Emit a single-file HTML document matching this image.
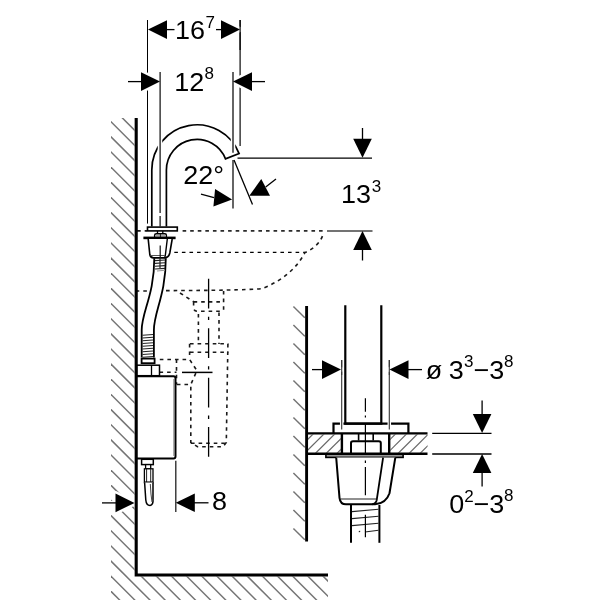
<!DOCTYPE html>
<html><head><meta charset="utf-8"><style>
html,body{margin:0;padding:0;background:#fff;width:600px;height:600px;overflow:hidden}
svg{display:block;will-change:transform}
text{font-family:"Liberation Sans",sans-serif}
</style></head><body>
<svg width="600" height="600" viewBox="0 0 600 600">
<rect width="600" height="600" fill="#fff"/>
<defs>
<clipPath id="cw"><rect x="111" y="118" width="23.5" height="482"/><rect x="111" y="576.6" width="217" height="30"/></clipPath>
<clipPath id="ct1"><rect x="307.8" y="434.6" width="33" height="18.2"/></clipPath>
<clipPath id="ct2"><rect x="390.2" y="434.6" width="37.3" height="18.2"/></clipPath>
</defs>
<g clip-path="url(#cw)" stroke="#747474" stroke-width="1.45"><line x1="0" y1="-34.7" x2="600" y2="565.3"/><line x1="0" y1="-19.55" x2="600" y2="580.45"/><line x1="0" y1="-4.4" x2="600" y2="595.6"/><line x1="0" y1="10.75" x2="600" y2="610.75"/><line x1="0" y1="25.9" x2="600" y2="625.9"/><line x1="0" y1="41.05" x2="600" y2="641.05"/><line x1="0" y1="56.2" x2="600" y2="656.2"/><line x1="0" y1="71.35" x2="600" y2="671.35"/><line x1="0" y1="86.5" x2="600" y2="686.5"/><line x1="0" y1="101.65" x2="600" y2="701.65"/><line x1="0" y1="116.8" x2="600" y2="716.8"/><line x1="0" y1="131.95" x2="600" y2="731.95"/><line x1="0" y1="147.1" x2="600" y2="747.1"/><line x1="0" y1="162.25" x2="600" y2="762.25"/><line x1="0" y1="177.4" x2="600" y2="777.4"/><line x1="0" y1="192.55" x2="600" y2="792.55"/><line x1="0" y1="207.7" x2="600" y2="807.7"/><line x1="0" y1="222.85" x2="600" y2="822.85"/><line x1="0" y1="238" x2="600" y2="838"/><line x1="0" y1="253.15" x2="600" y2="853.15"/><line x1="0" y1="268.3" x2="600" y2="868.3"/><line x1="0" y1="283.45" x2="600" y2="883.45"/><line x1="0" y1="298.6" x2="600" y2="898.6"/><line x1="0" y1="313.75" x2="600" y2="913.75"/><line x1="0" y1="328.9" x2="600" y2="928.9"/><line x1="0" y1="344.05" x2="600" y2="944.05"/><line x1="0" y1="359.2" x2="600" y2="959.2"/><line x1="0" y1="374.35" x2="600" y2="974.35"/><line x1="0" y1="389.5" x2="600" y2="989.5"/><line x1="0" y1="404.65" x2="600" y2="1004.65"/><line x1="0" y1="419.8" x2="600" y2="1019.8"/><line x1="0" y1="434.95" x2="600" y2="1034.95"/><line x1="0" y1="450.1" x2="600" y2="1050.1"/><line x1="0" y1="465.25" x2="600" y2="1065.25"/><line x1="0" y1="480.4" x2="600" y2="1080.4"/><line x1="0" y1="495.55" x2="600" y2="1095.55"/><line x1="0" y1="510.7" x2="600" y2="1110.7"/><line x1="0" y1="525.85" x2="600" y2="1125.85"/><line x1="0" y1="541" x2="600" y2="1141"/><line x1="0" y1="556.15" x2="600" y2="1156.15"/><line x1="0" y1="571.3" x2="600" y2="1171.3"/><line x1="0" y1="586.45" x2="600" y2="1186.45"/><line x1="0" y1="601.6" x2="600" y2="1201.6"/><line x1="0" y1="616.75" x2="600" y2="1216.75"/><line x1="0" y1="631.9" x2="600" y2="1231.9"/><line x1="0" y1="647.05" x2="600" y2="1247.05"/><line x1="0" y1="662.2" x2="600" y2="1262.2"/></g>
<g stroke="#747474" stroke-width="1.45"><line x1="293.4" y1="306.4" x2="304.8" y2="317.8"/><line x1="293.4" y1="324.9" x2="304.8" y2="336.3"/><line x1="293.4" y1="343.4" x2="304.8" y2="354.8"/><line x1="293.4" y1="361.9" x2="304.8" y2="373.3"/><line x1="293.4" y1="380.4" x2="304.8" y2="391.8"/><line x1="293.4" y1="398.9" x2="304.8" y2="410.3"/><line x1="293.4" y1="417.4" x2="304.8" y2="428.8"/><line x1="293.4" y1="435.9" x2="304.8" y2="447.3"/><line x1="293.4" y1="454.4" x2="304.8" y2="465.8"/><line x1="293.4" y1="472.9" x2="304.8" y2="484.3"/><line x1="293.4" y1="491.4" x2="304.8" y2="502.8"/><line x1="293.4" y1="509.9" x2="304.8" y2="521.3"/><line x1="293.4" y1="528.4" x2="304.8" y2="539.8"/></g>
<g clip-path="url(#ct1)" stroke="#666" stroke-width="1.2"><line x1="254.75" y1="460" x2="294.75" y2="420"/><line x1="265.55" y1="460" x2="305.55" y2="420"/><line x1="276.35" y1="460" x2="316.35" y2="420"/><line x1="287.15" y1="460" x2="327.15" y2="420"/><line x1="297.95" y1="460" x2="337.95" y2="420"/><line x1="308.75" y1="460" x2="348.75" y2="420"/><line x1="319.55" y1="460" x2="359.55" y2="420"/><line x1="330.35" y1="460" x2="370.35" y2="420"/><line x1="341.15" y1="460" x2="381.15" y2="420"/><line x1="351.95" y1="460" x2="391.95" y2="420"/><line x1="362.75" y1="460" x2="402.75" y2="420"/><line x1="373.55" y1="460" x2="413.55" y2="420"/><line x1="384.35" y1="460" x2="424.35" y2="420"/><line x1="395.15" y1="460" x2="435.15" y2="420"/><line x1="405.95" y1="460" x2="445.95" y2="420"/><line x1="416.75" y1="460" x2="456.75" y2="420"/><line x1="427.55" y1="460" x2="467.55" y2="420"/><line x1="438.35" y1="460" x2="478.35" y2="420"/><line x1="449.15" y1="460" x2="489.15" y2="420"/><line x1="459.95" y1="460" x2="499.95" y2="420"/><line x1="470.75" y1="460" x2="510.75" y2="420"/><line x1="481.55" y1="460" x2="521.55" y2="420"/><line x1="492.35" y1="460" x2="532.35" y2="420"/><line x1="503.15" y1="460" x2="543.15" y2="420"/><line x1="513.95" y1="460" x2="553.95" y2="420"/></g>
<g clip-path="url(#ct2)" stroke="#666" stroke-width="1.2"><line x1="336.5" y1="460" x2="376.5" y2="420"/><line x1="347.5" y1="460" x2="387.5" y2="420"/><line x1="358.5" y1="460" x2="398.5" y2="420"/><line x1="369.5" y1="460" x2="409.5" y2="420"/><line x1="380.5" y1="460" x2="420.5" y2="420"/><line x1="391.5" y1="460" x2="431.5" y2="420"/><line x1="402.5" y1="460" x2="442.5" y2="420"/><line x1="413.5" y1="460" x2="453.5" y2="420"/><line x1="424.5" y1="460" x2="464.5" y2="420"/><line x1="435.5" y1="460" x2="475.5" y2="420"/><line x1="446.5" y1="460" x2="486.5" y2="420"/><line x1="457.5" y1="460" x2="497.5" y2="420"/><line x1="468.5" y1="460" x2="508.5" y2="420"/><line x1="479.5" y1="460" x2="519.5" y2="420"/><line x1="490.5" y1="460" x2="530.5" y2="420"/><line x1="501.5" y1="460" x2="541.5" y2="420"/><line x1="512.5" y1="460" x2="552.5" y2="420"/><line x1="523.5" y1="460" x2="563.5" y2="420"/><line x1="534.5" y1="460" x2="574.5" y2="420"/><line x1="545.5" y1="460" x2="585.5" y2="420"/><line x1="556.5" y1="460" x2="596.5" y2="420"/><line x1="567.5" y1="460" x2="607.5" y2="420"/><line x1="578.5" y1="460" x2="618.5" y2="420"/><line x1="589.5" y1="460" x2="629.5" y2="420"/><line x1="600.5" y1="460" x2="640.5" y2="420"/></g>
<line x1="147.5" y1="20" x2="147.5" y2="223.6" stroke="#000" stroke-width="1" />
<line x1="240.1" y1="20" x2="240.1" y2="146" stroke="#000" stroke-width="1.16" />
<path d="M151.8,226.5 L151.8,170 A45.2,45.2 0 0 1 239.11,153.58 L225.51,158.88 A30.6,30.6 0 0 0 166.4,170 L166.4,226.5" fill="none" stroke="#000" stroke-width="1.7" stroke-linejoin="miter"/>
<path d="M137.1,230.9 H147" stroke="#1a1a1a" stroke-width="1.6" stroke-dasharray="3.6 3.98" fill="none"/>
<path d="M182.6,230.9 H323" stroke="#2a2a2a" stroke-width="1.8" stroke-dasharray="3.6 3.98" fill="none"/>
<path d="M174.3,252.3 H305" stroke="#000" stroke-width="1.35" stroke-dasharray="3.6 3.98" fill="none"/>
<path d="M135.7,291 H147" stroke="#1a1a1a" stroke-width="1.6" stroke-dasharray="3.6 3.98" fill="none"/>
<path d="M166,290.6 C210,290.5 248,290 262,288.6 Q292,277 305,252.5 Q320,246 323.5,233" stroke="#1a1a1a" stroke-width="1.6" stroke-dasharray="3.6 3.98" fill="none"/>
<path d="M180,293 L194,302" stroke="#1a1a1a" stroke-width="1.6" stroke-dasharray="3.6 3.98" fill="none"/>
<path d="M223.6,291 V311.2" stroke="#1a1a1a" stroke-width="1.6" stroke-dasharray="3.6 3.98" fill="none"/>
<path d="M193.6,301.9 H223.6" stroke="#1a1a1a" stroke-width="1.6" stroke-dasharray="3.6 3.98" fill="none"/>
<path d="M193.6,301.9 V307.5 Q193.6,311.2 197.4,311.2 H223.6" stroke="#1a1a1a" stroke-width="1.6" stroke-dasharray="3.6 3.98" fill="none"/>
<path d="M198.4,313.9 V344" stroke="#1a1a1a" stroke-width="1.6" stroke-dasharray="3.6 3.98" fill="none"/>
<path d="M219,312.5 V344" stroke="#1a1a1a" stroke-width="1.6" stroke-dasharray="3.6 3.98" fill="none"/>
<path d="M190,343.8 H228.3" stroke="#1a1a1a" stroke-width="1.6" stroke-dasharray="3.6 3.98" fill="none"/>
<path d="M190,352.2 H228.3" stroke="#1a1a1a" stroke-width="1.6" stroke-dasharray="3.6 3.98" fill="none"/>
<path d="M189.6,343.8 V358.3" stroke="#1a1a1a" stroke-width="1.6" stroke-dasharray="3.6 3.98" fill="none"/>
<path d="M227.9,343.8 L226.3,442.5 L223,446.7 H197.5 L190.8,442.5 V384.5" stroke="#1a1a1a" stroke-width="1.6" stroke-dasharray="3.6 3.98" fill="none"/>
<path d="M191,443.3 H226" stroke="#1a1a1a" stroke-width="1.6" stroke-dasharray="3.6 3.98" fill="none"/>
<path d="M159.8,359.5 H189.6 L196.2,369.6 V372.3 L190.8,384.5 H176.5" stroke="#1a1a1a" stroke-width="1.6" stroke-dasharray="3.6 3.98" fill="none"/>
<path d="M176.5,359.5 V384.5" stroke="#1a1a1a" stroke-width="1.6" stroke-dasharray="3.6 3.98" fill="none"/>
<path d="M159.5,372.3 H176.5" stroke="#1a1a1a" stroke-width="1.6" stroke-dasharray="3.6 3.98" fill="none"/>
<line x1="182" y1="372.4" x2="212.5" y2="372.4" stroke="#000" stroke-width="1.5" />
<path d="M208.6,278.75 V457.2" stroke="#000" stroke-width="1.3" stroke-dasharray="29.75 8.2 3.4 8.1"/>
<rect x="147.5" y="227.1" width="29.8" height="3.8" fill="#fff" stroke="#000" stroke-width="1.6"/>
<path d="M157.5,231 V234 M162.8,231 V234" stroke="#000" stroke-width="1.3"/>
<path d="M154.6,237.2 V235.2 Q154.6,233.7 156.4,233.7 H164.9 Q166.4,233.7 166.4,235.2 V237.2" fill="#fff" stroke="#000" stroke-width="1.4"/>
<rect x="155.6" y="235" width="4.2" height="1.7" fill="#aaa"/>
<rect x="161" y="235" width="4.2" height="1.7" fill="#aaa"/>
<line x1="160.4" y1="234" x2="160.4" y2="237" stroke="#222" stroke-width="1.1" />
<rect x="143.4" y="236.6" width="32.2" height="2.6" fill="#000"/>
<path d="M148.2,239 L149.8,254.5 Q150.4,257.9 153.5,257.9 H165 Q168.8,257.5 169.8,253 L172.2,239" fill="#fff" stroke="#000" stroke-width="1.6"/>
<path d="M167.3,239 L165.3,255.5 Q165,257.5 164,257.9" fill="none" stroke="#000" stroke-width="1.4"/>
<line x1="150.4" y1="255.5" x2="165" y2="255.5" stroke="#555" stroke-width="1" />
<line x1="160.2" y1="245.4" x2="160.2" y2="258" stroke="#111" stroke-width="1.2" />
<path d="M154.3,258.3 C154.3,295 141.7,312 141.7,330 V357.5" fill="none" stroke="#000" stroke-width="1.8"/>
<path d="M165.8,258.3 C165.8,295 153.9,312 153.9,330 V357.5" fill="none" stroke="#000" stroke-width="1.8"/>
<g stroke="#222" stroke-width="1.1"><line x1="155" y1="260.6" x2="165" y2="260"/><line x1="155" y1="263.4" x2="165" y2="262.8"/><line x1="155" y1="266.2" x2="165" y2="265.6"/><line x1="155" y1="269" x2="165" y2="268.4"/><line x1="157" y1="271" x2="165" y2="270.3" stroke="#999"/><line x1="142.5" y1="335.3" x2="153" y2="334.5"/><line x1="142.5" y1="338.05" x2="153" y2="337.25"/><line x1="142.5" y1="340.8" x2="153" y2="340"/><line x1="142.5" y1="343.55" x2="153" y2="342.75"/><line x1="142.5" y1="346.3" x2="153" y2="345.5"/><line x1="142.5" y1="349.05" x2="153" y2="348.25"/><line x1="142.5" y1="351.8" x2="153" y2="351"/><line x1="142.5" y1="354.55" x2="153" y2="353.75"/><line x1="142.5" y1="357.3" x2="153" y2="356.5"/></g>
<line x1="160" y1="258" x2="160" y2="268" stroke="#222" stroke-width="1.2" />
<rect x="141.6" y="358.6" width="13" height="4.6" fill="#fff" stroke="#000" stroke-width="1.8"/>
<rect x="136.5" y="365.2" width="23" height="10.5" fill="#fff" stroke="#000" stroke-width="1.5"/>
<line x1="151.5" y1="365.2" x2="151.5" y2="375.7" stroke="#000" stroke-width="1.3" />
<path d="M136.5,376.3 H173.5 Q175.5,376.3 175.5,378.3 V456.6 Q175.5,458.6 173.5,458.6 H136.5" fill="#fff" stroke="#000" stroke-width="2"/>
<line x1="174" y1="379" x2="174" y2="456" stroke="#777" stroke-width="1.2" />
<rect x="141.6" y="459.3" width="11.7" height="5.3" fill="#fff" stroke="#000" stroke-width="1.5"/>
<rect x="145.6" y="464.6" width="5.1" height="4.2" fill="#fff" stroke="#000" stroke-width="1.3"/>
<rect x="144.4" y="468.8" width="8.6" height="13.7" fill="#fff" stroke="#000" stroke-width="1.3"/>
<line x1="146.6" y1="469" x2="146.6" y2="482" stroke="#222" stroke-width="1" />
<line x1="150.7" y1="469" x2="150.7" y2="482" stroke="#222" stroke-width="1" />
<line x1="144.4" y1="482.5" x2="153" y2="482.5" stroke="#000" stroke-width="2" />
<path d="M144.6,482.5 L145.8,500 Q146.3,505.5 150,505.5 Q153.5,505 153,499 L153,482.5" fill="#fff" stroke="#000" stroke-width="1.5"/>
<path d="M150.3,484 Q150.8,495 152,502" fill="none" stroke="#444" stroke-width="1"/>
<path d="M345.3,305.3 V423.7 H381.3 V305.3" fill="none" stroke="#000" stroke-width="2.2"/>
<path d="M333.5,433 V423.7 H408.4 V433" fill="none" stroke="#000" stroke-width="2.2"/>
<line x1="341.7" y1="418" x2="341.7" y2="429.5" stroke="#fff" stroke-width="3.5" />
<line x1="389.3" y1="418" x2="389.3" y2="429.5" stroke="#fff" stroke-width="3.5" />
<line x1="306" y1="433.4" x2="427.5" y2="433.4" stroke="#000" stroke-width="2.4" />
<line x1="306" y1="453.8" x2="427.5" y2="453.8" stroke="#000" stroke-width="2.4" />
<line x1="341.9" y1="433" x2="341.9" y2="454" stroke="#000" stroke-width="2.4" />
<line x1="389.2" y1="433" x2="389.2" y2="454" stroke="#000" stroke-width="2.4" />
<path d="M358.6,433 V440.5 M373.2,433 V440.5" stroke="#000" stroke-width="1.6"/>
<path d="M351,453.8 V443 Q351,441.2 353,441.2 H378.8 Q380.8,441.2 380.8,443 V453.8" fill="none" stroke="#000" stroke-width="2"/>
<rect x="325.9" y="454.2" width="77.2" height="3.2" fill="#999" stroke="#000" stroke-width="1.6"/>
<path d="M336.2,457.6 L339.5,497.8 Q340.3,504.3 346,504.3 H375 Q386,503.5 389.5,493.2 L395.3,457.6" fill="#fff" stroke="#000" stroke-width="2"/>
<path d="M383.1,457.6 L376.7,500.2 Q376,503.8 372,504.3" fill="none" stroke="#000" stroke-width="1.8"/>
<line x1="340.5" y1="499" x2="376.5" y2="499" stroke="#222" stroke-width="1.1" />
<line x1="351" y1="505" x2="351" y2="542.8" stroke="#000" stroke-width="2" />
<line x1="379.4" y1="505" x2="379.4" y2="542.8" stroke="#000" stroke-width="2" />
<g stroke="#222" stroke-width="1.1"><line x1="352" y1="511.6" x2="378.5" y2="509.2"/><line x1="352" y1="518.6" x2="378.5" y2="516.2"/><line x1="352" y1="525.6" x2="378.5" y2="523.2"/><line x1="365" y1="532" x2="378.5" y2="530.2"/><line x1="358.8" y1="531.6" x2="360.2" y2="531.4"/></g>
<path d="M365.4,398.3 V411.7 M365.4,415.5 V417.5 M365.4,423 V453.7 M365.4,460.5 V463 M365.4,467 V495.3 M365.4,514.7 V537.3" stroke="#000" stroke-width="1.2"/>
<line x1="341.7" y1="360" x2="341.7" y2="429.5" stroke="#333" stroke-width="1.1" />
<line x1="389.3" y1="360" x2="389.3" y2="429.5" stroke="#333" stroke-width="1.1" />
<line x1="160" y1="120" x2="160" y2="170" stroke="#fff" stroke-width="4.5" />
<line x1="233" y1="135" x2="233" y2="152" stroke="#fff" stroke-width="4.5" />
<g><path d="M148,29.6 L167,20.3 L167,38.9 Z" fill="#fff" stroke="#fff" stroke-width="5" stroke-linejoin="round"/><line x1="166" y1="29.6" x2="174.5" y2="29.6" stroke="#fff" stroke-width="4" /><path d="M240,29.6 L221,38.9 L221,20.3 Z" fill="#fff" stroke="#fff" stroke-width="5" stroke-linejoin="round"/><line x1="216" y1="29.6" x2="223" y2="29.6" stroke="#fff" stroke-width="4" /><path d="M160,81.6 L141,90.9 L141,72.3 Z" fill="#fff" stroke="#fff" stroke-width="5" stroke-linejoin="round"/><line x1="128" y1="81.6" x2="142" y2="81.6" stroke="#fff" stroke-width="4" /><path d="M233,81.6 L252,72.3 L252,90.9 Z" fill="#fff" stroke="#fff" stroke-width="5" stroke-linejoin="round"/><line x1="251" y1="81.6" x2="265" y2="81.6" stroke="#fff" stroke-width="4" /><path d="M232.1,199.4 L215.1,189 L213.4,206.6 Z" fill="#fff" stroke="#fff" stroke-width="5" stroke-linejoin="round"/><line x1="201" y1="194.2" x2="214" y2="197.6" stroke="#fff" stroke-width="4" /><path d="M249.3,195.7 L261.3,179 L270,195.7 Z" fill="#fff" stroke="#fff" stroke-width="5" stroke-linejoin="round"/><line x1="265.7" y1="187" x2="276" y2="179" stroke="#fff" stroke-width="4" /><path d="M362.5,157.7 L353.2,138.7 L371.8,138.7 Z" fill="#fff" stroke="#fff" stroke-width="5" stroke-linejoin="round"/><line x1="362.5" y1="128" x2="362.5" y2="140" stroke="#fff" stroke-width="4" /><path d="M362.5,231 L371.8,250 L353.2,250 Z" fill="#fff" stroke="#fff" stroke-width="5" stroke-linejoin="round"/><line x1="362.5" y1="249" x2="362.5" y2="260.5" stroke="#fff" stroke-width="4" /><path d="M134.5,502.9 L115.5,512.2 L115.5,493.6 Z" fill="#fff" stroke="#fff" stroke-width="5" stroke-linejoin="round"/><line x1="102" y1="502.9" x2="117" y2="502.9" stroke="#fff" stroke-width="4" /><path d="M175.8,502.8 L194.8,493.5 L194.8,512.1 Z" fill="#fff" stroke="#fff" stroke-width="5" stroke-linejoin="round"/><line x1="194" y1="502.8" x2="208.5" y2="502.8" stroke="#fff" stroke-width="4" /><path d="M341,369.6 L322,378.9 L322,360.3 Z" fill="#fff" stroke="#fff" stroke-width="5" stroke-linejoin="round"/><line x1="312" y1="369.6" x2="323" y2="369.6" stroke="#fff" stroke-width="4" /><path d="M389.5,369.6 L408.5,360.3 L408.5,378.9 Z" fill="#fff" stroke="#fff" stroke-width="5" stroke-linejoin="round"/><line x1="408" y1="369.6" x2="422" y2="369.6" stroke="#fff" stroke-width="4" /><path d="M482.1,433 L472.8,414 L491.4,414 Z" fill="#fff" stroke="#fff" stroke-width="5" stroke-linejoin="round"/><line x1="482.1" y1="400.5" x2="482.1" y2="415" stroke="#fff" stroke-width="4" /><path d="M482.1,454 L491.4,473 L472.8,473 Z" fill="#fff" stroke="#fff" stroke-width="5" stroke-linejoin="round"/><line x1="482.1" y1="472.5" x2="482.1" y2="486.5" stroke="#fff" stroke-width="4" /></g>
<path d="M136.2,118 V575 H328" fill="none" stroke="#000" stroke-width="3.1"/>
<path d="M306.6,306 V541.5" stroke="#000" stroke-width="2.9"/>
<line x1="147.5" y1="20" x2="147.5" y2="50" stroke="#000" stroke-width="1" />
<line x1="240.1" y1="20" x2="240.1" y2="50" stroke="#000" stroke-width="1.16" />
<line x1="160.1" y1="72" x2="160.1" y2="213" stroke="#000" stroke-width="1.16" />
<line x1="160.1" y1="216" x2="160.1" y2="226.5" stroke="#000" stroke-width="1.16" />
<line x1="233" y1="72" x2="233" y2="152.8" stroke="#111" stroke-width="1.3" />
<line x1="233" y1="160" x2="233" y2="208.5" stroke="#111" stroke-width="1.3" />
<line x1="234" y1="160" x2="252.5" y2="204.5" stroke="#000" stroke-width="1.3" />
<line x1="237.5" y1="158.2" x2="372" y2="158.2" stroke="#000" stroke-width="1.3" />
<line x1="327" y1="231" x2="372.5" y2="231" stroke="#444" stroke-width="1.4" />
<line x1="175.8" y1="460.7" x2="175.8" y2="512" stroke="#222" stroke-width="1.3" />
<line x1="432.2" y1="433.3" x2="491.5" y2="433.3" stroke="#000" stroke-width="1.3" />
<line x1="432.2" y1="454" x2="491.5" y2="454" stroke="#000" stroke-width="1.3" />
<line x1="341.7" y1="360" x2="341.7" y2="375" stroke="#333" stroke-width="1.1" />
<line x1="389.3" y1="360" x2="389.3" y2="375" stroke="#333" stroke-width="1.1" />
<g><path d="M148,29.6 L167,20.3 L167,38.9 Z" fill="#000" /><line x1="166" y1="29.6" x2="174.5" y2="29.6" stroke="#000" stroke-width="1.3" /><path d="M240,29.6 L221,38.9 L221,20.3 Z" fill="#000" /><line x1="216" y1="29.6" x2="223" y2="29.6" stroke="#000" stroke-width="1.3" /><path d="M160,81.6 L141,90.9 L141,72.3 Z" fill="#000" /><line x1="128" y1="81.6" x2="142" y2="81.6" stroke="#000" stroke-width="1.3" /><path d="M233,81.6 L252,72.3 L252,90.9 Z" fill="#000" /><line x1="251" y1="81.6" x2="265" y2="81.6" stroke="#000" stroke-width="1.3" /><path d="M232.1,199.4 L215.1,189 L213.4,206.6 Z" fill="#000" /><line x1="201" y1="194.2" x2="214" y2="197.6" stroke="#000" stroke-width="1.3" /><path d="M249.3,195.7 L261.3,179 L270,195.7 Z" fill="#000" /><line x1="265.7" y1="187" x2="276" y2="179" stroke="#000" stroke-width="1.3" /><path d="M362.5,157.7 L353.2,138.7 L371.8,138.7 Z" fill="#000" /><line x1="362.5" y1="128" x2="362.5" y2="140" stroke="#000" stroke-width="1.3" /><path d="M362.5,231 L371.8,250 L353.2,250 Z" fill="#000" /><line x1="362.5" y1="249" x2="362.5" y2="260.5" stroke="#000" stroke-width="1.3" /><path d="M134.5,502.9 L115.5,512.2 L115.5,493.6 Z" fill="#000" /><line x1="102" y1="502.9" x2="117" y2="502.9" stroke="#000" stroke-width="1.3" /><path d="M175.8,502.8 L194.8,493.5 L194.8,512.1 Z" fill="#000" /><line x1="194" y1="502.8" x2="208.5" y2="502.8" stroke="#000" stroke-width="1.3" /><path d="M341,369.6 L322,378.9 L322,360.3 Z" fill="#000" /><line x1="312" y1="369.6" x2="323" y2="369.6" stroke="#000" stroke-width="1.3" /><path d="M389.5,369.6 L408.5,360.3 L408.5,378.9 Z" fill="#000" /><line x1="408" y1="369.6" x2="422" y2="369.6" stroke="#000" stroke-width="1.3" /><path d="M482.1,433 L472.8,414 L491.4,414 Z" fill="#000" /><line x1="482.1" y1="400.5" x2="482.1" y2="415" stroke="#000" stroke-width="1.3" /><path d="M482.1,454 L491.4,473 L472.8,473 Z" fill="#000" /><line x1="482.1" y1="472.5" x2="482.1" y2="486.5" stroke="#000" stroke-width="1.3" /></g>
<g font-family="Liberation Sans" fill="#000">
<text transform="translate(174.9,39.1) scale(1,0.97)" font-size="27">16</text>
<text x="205.5" y="27.9" font-size="17">7</text>
<text transform="translate(174.3,91.1) scale(1,0.97)" font-size="27">12</text>
<text x="204.5" y="78.8" font-size="17">8</text>
<text transform="translate(183.2,184.1) scale(1,0.97)" font-size="27">22°</text>
<text transform="translate(341,203.1) scale(1,0.97)" font-size="27">13</text>
<text x="371.8" y="191.7" font-size="17">3</text>
<text transform="translate(212,510.1) scale(1,0.97)" font-size="27">8</text>
<text transform="translate(425.7,379.1) scale(1,0.97)" font-size="27">ø</text>
<text transform="translate(448.8,379.1) scale(1,0.97)" font-size="27">3</text>
<text x="464" y="366.8" font-size="17">3</text>
<text transform="translate(473.5,379.1) scale(1,0.97)" font-size="27">−</text>
<text transform="translate(489.3,379.1) scale(1,0.97)" font-size="27">3</text>
<text x="504" y="366.8" font-size="17">8</text>
<text transform="translate(449.2,513.1) scale(1,0.97)" font-size="27">0</text>
<text x="464.3" y="501.9" font-size="17">2</text>
<text transform="translate(473.5,513.1) scale(1,0.97)" font-size="27">−</text>
<text transform="translate(489.3,513.1) scale(1,0.97)" font-size="27">3</text>
<text x="504" y="501.4" font-size="17">8</text>
</g>
</svg>
</body></html>
